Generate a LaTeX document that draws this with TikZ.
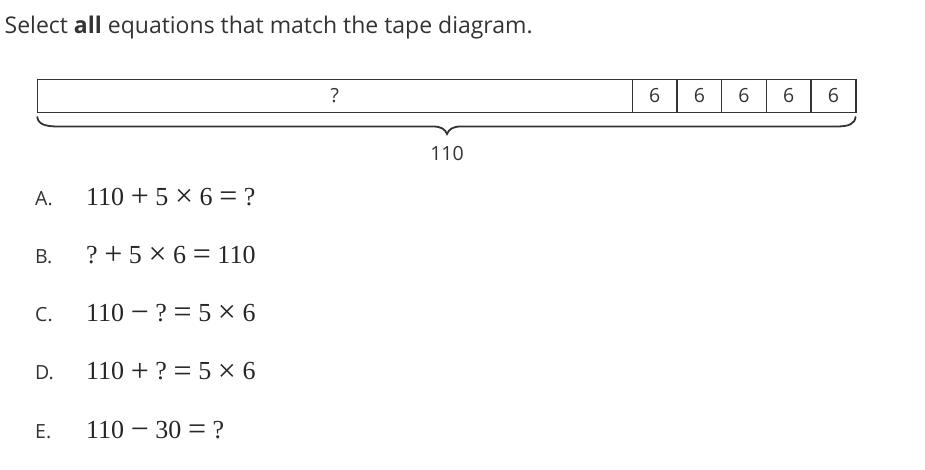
\documentclass[tikz,border=0pt]{standalone}
\usepackage{fontspec}
\setmainfont{Open Sans}
\newfontfamily\eqfont{Liberation Serif}
\usepackage{xcolor}
\usepackage{tikz}
\usetikzlibrary{positioning}

\definecolor{inkgray}{HTML}{333333}
\newcommand\op[1]{\hspace{6.6pt}\raisebox{-1.3pt}{\fontsize{32}{32}\selectfont#1}\hspace{6.6pt}}

\begin{document}
\begin{tikzpicture}
[x=1pt,y=-1pt,line cap=round,
tape/.style={draw=inkgray,line width=1.4pt,minimum height=33pt,inner sep=0pt,
  outer sep=0pt,text=inkgray,font=\fontsize{19.5}{22}\selectfont},
cell/.style={minimum width=44.7pt},
brace line/.style={line width=1.8pt,draw=inkgray},
choice/.style={anchor=base west,inner sep=0pt,text=inkgray,font=\fontsize{19.5}{22}\selectfont},
equation/.style={anchor=base west,inner sep=0pt,text=black!85,font=\eqfont\fontsize{26}{28}\selectfont}]
\useasboundingbox (0,0) rectangle (925,469);
% Question
\node[anchor=base west,inner sep=0pt,text=inkgray,font=\fontsize{23}{26}\selectfont]
  (question) at (4.5,33) {Select \textbf{all} equations that match the tape diagram.};
% The tape
\node[tape,minimum width=595pt,anchor=north west] (unknown) at (37.3,79.5) {?};
\foreach \i/\prev in {1/unknown,2/six1,3/six2,4/six3,5/six4}
  \node[tape,cell,right=0pt of \prev] (six\i) {6};
% The brace
\draw[brace line] (37.3,117) .. controls (38,124) and (45,126.5) .. (58,126.5)
  -- (433,126.5) .. controls (441,126.5) and (445,129) .. (447,134)
  .. controls (449,129) and (453,126.5) .. (461,126.5)
  -- (836,126.5) .. controls (849,126.5) and (854.5,124) .. (855.6,117);
\node[anchor=base,inner sep=0pt,text=inkgray,font=\fontsize{19.5}{22}\selectfont]
  (total) at (447,160) {110};
% Choices
\foreach \l/\eq [count=\i from 0] in {
  A/{110\op{+}5\op{×}6\op{=}?},
  B/{?\op{+}5\op{×}6\op{=}110},
  C/{110\op{−}?\op{=}5\op{×}6},
  D/{110\op{+}?\op{=}5\op{×}6},
  E/{110\op{−}30\op{=}?}}
{
  \node[choice] (lab\l) at (35,205+58.3*\i) {\l.};
  \node[equation] (eq\l) at (86,205+58.3*\i) {\eq};
}
\end{tikzpicture}
\end{document}
